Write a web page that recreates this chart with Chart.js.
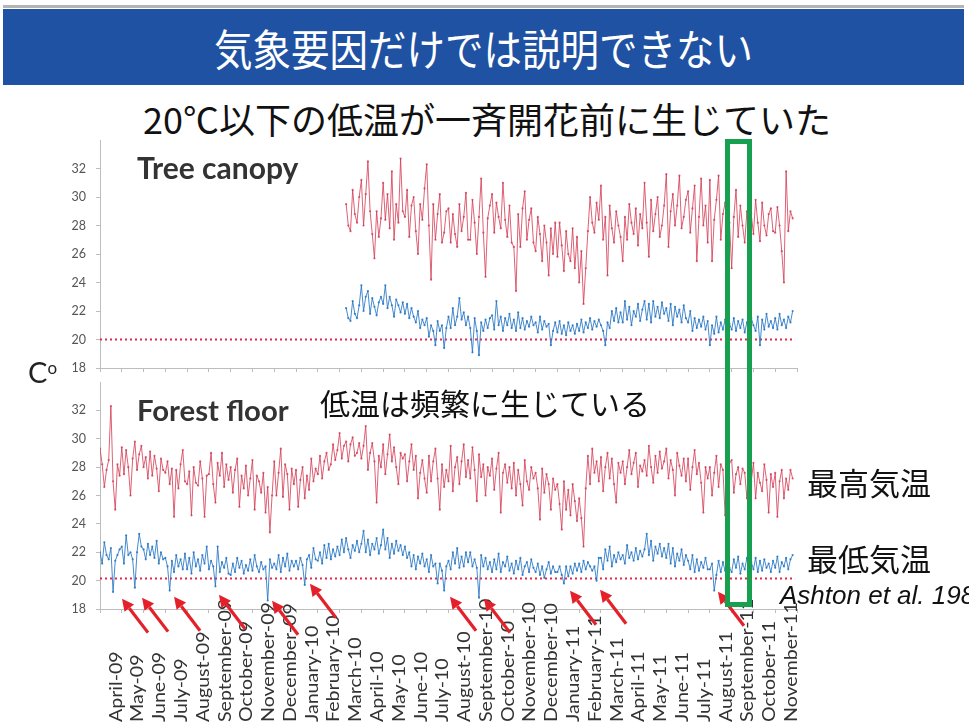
<!DOCTYPE html>
<html>
<head>
<meta charset="utf-8">
<script src="https://cdn.jsdelivr.net/npm/chart.js@4/dist/chart.umd.min.js"></script>
<style>
  html, body { margin: 0; padding: 0; background: #fff; }
  body { width: 969px; height: 727px; overflow: hidden; position: relative; font-family: Lato, "Noto Sans CJK JP", sans-serif; }
  #rule { position: absolute; left: 3px; top: 5px; width: 961px; height: 3px; background: #b4b4b4; }
  #bar { position: absolute; left: 3px; top: 9px; width: 961px; height: 76px; background: #1f52a2;
         display: flex; align-items: center; justify-content: center; }
  #bar span { color: #fff; font-family: "Noto Sans CJK JP", sans-serif; font-size: 38.5px; display: inline-block; transform: scaleY(1.12); }
  .t { position: absolute; white-space: nowrap; line-height: 1; color: #111; }
  .jp { font-family: "Noto Sans CJK JP", sans-serif; }
  canvas { position: absolute; left: 0; }
  #window { position: absolute; border: 5px solid #16a050; box-sizing: border-box; }
</style>
</head>
<body>
<div id="rule"></div>
<div id="bar"><span>気象要因だけでは説明できない</span></div>
<div class="t jp" style="left:143px; top:100px; font-size:36px;">20℃以下の低温が一斉開花前に生じていた</div>

<canvas id="canopy" width="969" height="250" style="top:130px"></canvas>
<canvas id="floor" width="969" height="355" style="top:372px"></canvas>

<div class="t" style="left:137px; top:152px; font-size:30px; font-weight:700; color:#333;">Tree canopy</div>
<div class="t" style="left:137px; top:395px; font-size:29.3px; font-weight:700; color:#333;">Forest floor</div>
<div class="t jp" style="left:320px; top:387px; font-size:30px;">低温は頻繁に生じている</div>
<div class="t jp" style="left:807px; top:466px; font-size:31px;">最高気温</div>
<div class="t jp" style="left:807px; top:542px; font-size:31px;">最低気温</div>
<div class="t" style="left:780px; top:582px; font-size:26px; font-style:italic; font-family:'Liberation Sans', Arial, sans-serif;">Ashton et al. 1988</div>
<div class="t" style="left:28px; top:357px; font-size:29px; color:#222;">C<span style="font-size:17px; vertical-align:9px;">o</span></div>
<div id="window"></div>

<script>
// Month tick labels (first tick = 1 April 2009)
const monthLabels = [
  'April-09','May-09','June-09','July-09','August-09','September-09','October-09','November-09','December-09',
  'January-10','February-10','March-10','April-10','May-10','June-10','July-10','August-10','September-10',
  'October-10','November-10','December-10','January-11','February-11','March-11','April-11','May-11',
  'June-11','July-11','August-11','September-11','October-11','November-11'
];
const tempTicks = [18, 20, 22, 24, 26, 28, 30, 32];

// Readings every third day (10 per month), °C
const samplesPerMonth = 10;

// Forest floor, daily maximum (Apr 2009 - Nov 2011)
const floorMax = [
  29.3,28.2,26.6,27.8,28.5,32.3,27.0,25.0,28.2,27.4,  29.4,27.5,29.2,28.0,26.0,28.6,29.8,27.8,28.9,29.5,
  28.0,28.7,27.2,29.1,27.4,28.8,27.9,26.3,28.6,27.8,  27.6,28.4,26.8,27.9,24.5,27.8,26.5,28.2,29.2,27.0,
  26.8,27.7,24.6,28.0,26.9,26.7,28.4,27.2,24.5,27.4,  27.5,29.0,26.8,25.5,28.3,27.4,29.0,26.6,28.2,27.1,
  28.0,26.2,27.8,28.6,25.2,27.4,26.5,28.1,26.0,27.2,  28.5,25.0,27.4,27.0,26.2,27.6,24.8,26.6,23.4,26.0,
  28.4,26.0,27.6,29.3,25.9,28.2,27.5,25.0,27.9,26.8,  27.8,25.2,27.1,28.0,25.8,27.4,26.4,28.6,27.0,27.9,
  27.5,28.8,27.2,28.4,29.0,27.8,28.2,29.6,28.5,29.2,  30.4,28.6,29.5,29.8,28.4,29.6,30.1,28.8,29.0,29.7,
  28.6,29.5,30.9,27.8,29.0,29.7,28.4,25.5,28.8,28.0,  29.6,27.5,28.9,30.3,28.4,29.4,28.0,26.8,29.0,28.6,
  28.9,27.0,28.4,29.6,27.8,28.8,25.8,27.6,28.5,27.2,  26.2,28.8,27.0,28.4,29.3,27.2,25.0,28.2,26.6,27.8,
  27.0,29.5,26.3,28.0,28.7,26.8,28.4,29.6,27.3,28.5,  27.2,29.4,27.8,25.6,28.9,27.3,28.2,26.0,28.0,27.4,
  28.6,26.4,27.9,29.0,24.8,27.6,28.2,26.9,28.0,26.5,  28.3,26.0,27.8,26.8,25.3,28.5,27.0,26.4,28.0,27.2,
  27.6,26.5,24.3,27.9,26.2,27.5,26.8,25.0,27.2,26.4,  26.8,25.4,23.6,27.0,25.0,26.4,24.6,26.8,25.6,24.2,
  25.8,24.4,22.4,26.5,28.8,26.8,29.3,27.6,28.4,27.0,  28.7,26.3,28.0,29.0,27.2,28.6,26.8,25.5,28.3,27.6,
  28.4,26.8,28.0,29.2,27.5,28.3,29.0,26.6,28.1,27.7,  28.5,27.4,29.5,28.0,26.9,28.8,27.6,29.1,27.9,28.4,
  29.3,27.2,28.5,27.8,26.0,29.0,28.1,27.4,28.6,27.0,  28.6,26.4,28.0,29.2,27.5,28.3,26.9,24.8,28.0,27.2,
  28.0,26.0,27.6,28.8,26.6,28.2,27.8,24.6,27.4,28.3,  28.5,26.2,27.5,28.0,26.8,27.9,27.6,25.8,28.1,27.0,
  28.3,25.8,27.6,26.9,26.3,28.2,27.1,24.8,27.5,26.6,  27.6,24.5,27.0,27.8,25.8,27.2,26.4,27.8,27.2
];
// Forest floor, daily minimum
const floorMin = [
  22.0,21.2,22.7,21.8,21.5,22.3,19.2,21.4,21.8,22.2,  22.4,21.2,23.2,21.8,22.0,21.5,19.5,22.0,23.3,22.4,
  22.2,21.5,22.6,21.8,22.4,21.6,22.8,21.2,22.0,21.5,  21.6,21.0,19.3,21.4,20.6,21.8,21.0,21.5,20.8,21.9,
  20.8,21.6,20.5,22.0,21.0,21.5,20.7,21.8,21.2,22.4,  20.8,21.4,21.0,19.6,22.4,20.6,21.3,20.9,21.6,20.5,
  20.4,21.2,20.6,21.6,20.9,21.4,20.5,21.1,20.7,21.5,  20.7,21.8,21.0,20.6,21.3,20.8,21.0,18.6,21.5,20.9,
  21.2,20.8,21.8,20.6,21.6,21.0,21.9,20.7,21.4,21.0,  21.4,20.8,21.6,21.1,19.7,21.5,21.8,20.9,22.3,21.5,
  21.4,22.0,21.2,22.5,21.6,22.6,21.5,22.2,21.7,22.4,  21.8,22.9,22.0,23.0,22.2,21.6,22.5,22.1,22.8,22.0,
  22.6,23.5,22.0,22.9,21.8,22.6,22.2,23.0,21.9,22.5,  23.6,22.2,23.0,21.6,22.6,21.9,22.8,22.1,22.5,21.8,
  22.4,21.6,22.0,21.0,21.8,20.8,21.7,21.2,21.9,21.0,  21.5,20.6,21.8,21.0,21.2,19.8,21.2,20.7,19.3,21.0,
  21.4,20.8,22.0,21.2,22.3,20.9,21.7,21.0,22.0,21.3,  22.0,21.0,21.5,20.9,18.8,21.8,21.0,21.6,20.8,21.3,
  20.6,21.5,20.8,21.9,20.6,21.3,21.0,21.7,20.7,21.2,  20.5,21.4,20.8,21.6,20.4,21.0,21.3,20.6,21.5,20.9,
  20.6,21.2,20.4,21.0,20.2,20.8,21.3,20.5,21.0,20.6,  20.6,21.0,20.4,19.8,21.0,20.3,21.0,20.5,21.2,20.7,
  21.2,20.6,21.4,20.8,21.3,21.0,20.7,21.0,20.0,21.6,  21.6,20.8,22.2,21.4,22.4,21.0,21.8,21.3,22.0,21.5,
  21.8,21.2,22.5,21.6,22.0,21.4,22.3,21.5,22.1,21.7,  22.2,23.3,21.8,22.8,21.4,22.4,21.9,22.6,21.7,22.3,
  21.6,22.6,21.2,22.3,21.0,21.9,21.4,22.2,21.1,21.8,  21.4,20.8,21.8,20.6,21.5,20.7,21.3,20.9,21.6,20.8,
  20.8,21.2,19.3,20.4,21.4,20.6,21.3,20.7,21.5,20.9,  20.6,21.5,20.9,21.7,20.5,21.2,20.8,21.6,20.7,21.3,
  20.8,21.6,20.6,21.4,20.7,21.5,20.9,21.2,20.6,21.4,  20.9,21.7,20.6,21.3,21.0,21.6,20.8,21.5,21.8
];

// Tree canopy logging began in March 2010 (sample 113 on the same 3-day grid)
const canopyOffset = 113;
const canopyMax = [
  29.5,28.0,27.6,30.5,28.8,28.2,30.0,
  31.2,28.0,30.2,32.5,29.0,27.4,25.7,29.0,27.2,28.5,  31.0,28.4,30.2,27.8,31.8,27.0,29.5,28.2,32.7,29.0,
  28.6,30.5,27.2,29.4,30.0,27.6,26.0,29.5,28.4,30.6,  32.3,28.0,24.2,29.5,27.0,28.8,30.2,26.8,27.5,29.0,
  29.2,26.8,28.8,27.4,26.5,29.5,27.6,28.6,30.3,27.0,  27.0,29.8,28.2,26.0,28.6,31.3,27.5,24.4,28.5,29.4,
  30.2,27.5,29.6,28.6,27.8,31.0,28.4,27.2,29.4,26.8,  26.5,23.4,28.8,26.5,29.2,30.4,27.0,28.4,29.2,26.8,
  26.2,28.6,27.4,25.5,28.0,26.8,24.5,27.8,26.0,28.2,  25.8,28.2,26.6,24.8,27.6,26.0,25.5,27.8,25.0,27.2,
  24.0,26.2,22.5,25.0,27.6,30.0,28.2,27.5,29.6,28.4,  30.8,27.0,28.6,24.5,29.4,27.8,26.8,29.0,28.0,27.2,
  25.5,28.6,27.0,29.5,28.2,27.4,29.2,26.6,28.8,27.8,  31.0,28.2,25.8,29.8,27.6,28.8,30.0,27.2,28.0,29.4,
  31.6,26.5,29.0,30.2,28.0,29.4,31.5,27.8,28.6,29.8,  30.4,27.5,29.2,30.8,25.5,28.6,31.3,28.0,29.4,26.8,
  31.2,25.5,28.4,29.8,31.5,27.0,28.8,29.6,27.4,28.2,  25.0,28.6,30.5,27.2,29.4,28.0,26.8,29.0,27.6,28.8,
  27.4,29.8,28.2,26.9,29.6,28.0,27.3,28.8,29.2,27.6,  27.5,29.3,28.0,26.2,24.0,31.8,27.6,29.0,28.5
];
const canopyMin = [
  22.2,21.5,21.3,22.7,21.8,21.5,22.4,
  23.8,22.0,23.0,23.4,21.8,22.9,22.3,21.7,22.6,23.0,  22.5,23.8,22.2,23.0,22.4,21.6,22.8,22.4,21.9,22.6,
  21.8,22.5,21.5,22.2,21.6,21.2,22.0,20.8,21.4,21.0,  21.5,20.2,21.0,20.6,19.6,21.3,20.6,21.0,19.4,20.8,
  21.6,20.8,22.2,21.0,21.6,22.9,21.4,21.9,21.0,21.6,  20.8,19.1,21.5,20.6,18.9,21.2,20.6,21.4,20.8,21.5,
  21.7,20.7,22.7,21.0,21.6,20.6,21.5,21.0,21.8,20.8,  21.4,20.6,21.9,20.8,21.5,20.7,21.3,20.9,21.6,21.0,
  21.2,20.5,21.6,20.7,21.3,20.9,21.1,19.6,20.6,21.2,  20.5,21.3,20.4,21.0,20.3,21.2,20.6,21.0,20.4,21.1,
  20.6,21.4,20.5,21.2,20.8,21.5,20.7,21.3,20.9,21.4,  21.0,20.6,19.6,21.2,20.8,22.0,21.3,22.2,21.2,21.9,
  21.2,22.7,21.4,22.3,21.0,22.0,21.6,22.5,21.3,22.1,  22.7,21.4,22.5,21.2,22.7,21.6,22.3,21.5,22.6,21.8,
  22.2,21.3,22.5,21.0,22.3,21.6,22.1,21.2,22.4,21.5,  21.2,22.0,20.6,21.5,20.8,21.4,20.9,21.6,20.7,21.3,
  19.6,21.0,20.4,21.6,20.5,21.2,20.7,21.4,20.6,21.1,  20.7,21.5,20.6,21.3,20.8,21.4,20.5,21.2,20.9,21.5,
  21.0,20.6,21.6,19.6,21.4,20.7,21.8,20.9,21.3,20.8,  21.5,20.7,21.8,21.0,21.4,20.8,21.6,21.2,22.0
];

// 20 °C threshold lines
const canopyThreshold = 20;
const floorThreshold = 20.15;
const thresholdSpan = [0, 31.8];

// Low-temperature events on the forest floor [month, °C]
const lowEvents = [
  [1.01, 18.73], [1.93, 18.8], [3.40, 18.87], [5.46, 19.0], [7.90, 18.58], [9.64, 19.78],
  [16.07, 18.87], [17.63, 18.73], [21.58, 19.29], [22.96, 19.36], [28.37, 19.22]
];
// Mass flowering window [month from, month to]
const floweringWindow = [28.81, 29.83];

const RED = 'rgba(212,58,82,0.8)';
const BLUE = 'rgba(38,118,196,0.85)';
const THRESH = '#e3284a';
const AXIS = '#bdbdbd';

function series(values, offset) {
  return values.map((v, i) => ({ x: (offset + i) / samplesPerMonth, y: v }));
}
function lineSet(data, color) {
  return { data, borderColor: color, backgroundColor: color, borderWidth: 1,
           pointRadius: 1.1, pointBorderWidth: 0, tension: 0 };
}
function thresholdSet(v) {
  return { data: thresholdSpan.map(x => ({ x, y: v })), borderColor: THRESH, borderWidth: 2,
           borderDash: [2, 3], pointRadius: 0 };
}

function yScale() {
  return {
    min: 18, max: 34,
    afterBuildTicks: s => { s.ticks = tempTicks.map(v => ({ value: v })); },
    ticks: { font: { family: 'Lato', size: 12.5 }, color: '#555', padding: 10 },
    grid: { drawOnChartArea: false, tickLength: 4, color: AXIS },
    border: { color: AXIS },
    afterFit: s => { s.width = 100; s.paddingTop = 0; s.paddingBottom = 0; }
  };
}
function xScale(height) {
  return {
    type: 'linear', min: 0, max: 32,
    afterBuildTicks: s => { s.ticks = monthLabels.map((_, i) => ({ value: i })).concat([{ value: 32 }]); },
    ticks: { display: false },
    grid: { drawOnChartArea: false, tickLength: 4, color: AXIS },
    border: { color: AXIS },
    afterFit: s => { s.height = height; s.paddingLeft = 0; s.paddingRight = 0; }
  };
}

// Month names read upward from a shared bottom line under the floor panel
const monthAxisLabels = {
  id: 'monthAxisLabels',
  afterDraw(chart) {
    const { ctx, scales: { x } } = chart;
    ctx.save();
    ctx.font = '17.5px Lato';
    ctx.fillStyle = '#333';
    ctx.textAlign = 'left';
    ctx.textBaseline = 'middle';
    monthLabels.forEach((label, i) => {
      ctx.save();
      ctx.translate(x.getPixelForValue(i) + 16, chart.height - 5);
      ctx.rotate(-Math.PI / 2);
      ctx.scale(1.12, 1);
      ctx.fillText(label, 0, 0);
      ctx.restore();
    });
    ctx.restore();
  }
};

const arrowPlugin = {
  id: 'lowArrows',
  afterDraw(chart) {
    const { ctx, scales: { x, y } } = chart;
    ctx.save();
    ctx.strokeStyle = '#e4202a';
    ctx.fillStyle = '#e4202a';
    ctx.lineWidth = 3.2;
    lowEvents.forEach(([m, t]) => {
      const tx = x.getPixelForValue(m), ty = y.getPixelForValue(t);
      const sx = tx + 26, sy = ty + 34;
      const ang = Math.atan2(ty - sy, tx - sx);
      const head = 12, hw = 6;
      const bx = tx - head * Math.cos(ang), by = ty - head * Math.sin(ang);
      ctx.beginPath(); ctx.moveTo(sx, sy); ctx.lineTo(bx, by); ctx.stroke();
      ctx.beginPath(); ctx.moveTo(tx, ty);
      ctx.lineTo(bx + hw * Math.sin(ang), by - hw * Math.cos(ang));
      ctx.lineTo(bx - hw * Math.sin(ang), by + hw * Math.cos(ang));
      ctx.closePath(); ctx.fill();
    });
    ctx.restore();
  }
};

const common = {
  responsive: false, animation: false, events: [],
  plugins: { legend: { display: false }, tooltip: { enabled: false } }
};

const canopyChart = new Chart(document.getElementById('canopy'), {
  type: 'line',
  data: { datasets: [
    lineSet(series(canopyMax, canopyOffset), RED),
    lineSet(series(canopyMin, canopyOffset), BLUE),
    thresholdSet(canopyThreshold)
  ] },
  options: Object.assign({}, common, {
    layout: { padding: { top: 10, right: 172, left: 0, bottom: 0 } },
    scales: { x: xScale(12), y: yScale() }
  })
});

const floorChart = new Chart(document.getElementById('floor'), {
  type: 'line',
  data: { datasets: [
    lineSet(series(floorMax, 0), RED),
    lineSet(series(floorMin, 0), BLUE),
    thresholdSet(floorThreshold)
  ] },
  options: Object.assign({}, common, {
    layout: { padding: { top: 10, right: 172, left: 0, bottom: 0 } },
    scales: { x: xScale(118), y: yScale() }
  }),
  plugins: [monthAxisLabels, arrowPlugin]
});

// Frame around the mass-flowering window, spanning both panels
(function () {
  const fx = floorChart.scales.x, cy = canopyChart.scales.y, fy = floorChart.scales.y;
  const canopyTop = parseFloat(document.getElementById('canopy').style.top);
  const floorTop = parseFloat(document.getElementById('floor').style.top);
  const left = fx.getPixelForValue(floweringWindow[0]) - 2.5;
  const right = fx.getPixelForValue(floweringWindow[1]) + 2.5;
  const top = canopyTop + cy.getPixelForValue(33.9) - 2.5;
  const bottom = floorTop + fy.getPixelForValue(18.3) + 2.5;
  const w = document.getElementById('window');
  w.style.left = left + 'px'; w.style.top = top + 'px';
  w.style.width = (right - left) + 'px'; w.style.height = (bottom - top) + 'px';
})();
</script>
</body>
</html>
